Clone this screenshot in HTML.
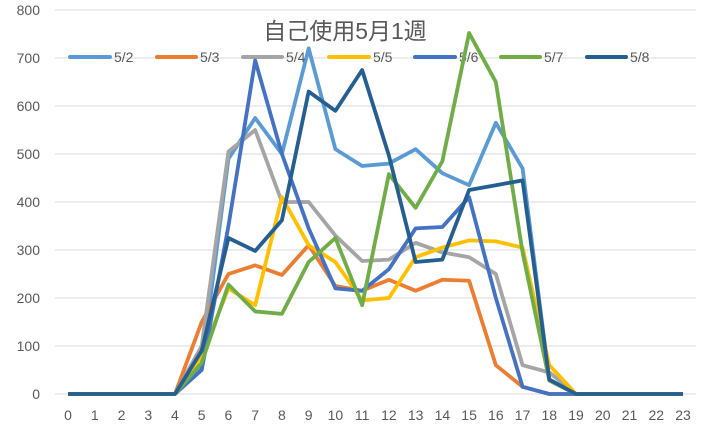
<!DOCTYPE html><html><head><meta charset="utf-8"><style>body{margin:0;background:#fff}svg{display:block}text{font-family:"Liberation Sans","Noto Sans CJK JP",sans-serif;fill:#595959}</style></head><body>
<svg width="712" height="429" xmlns="http://www.w3.org/2000/svg" id="s"></svg>
<script>
const s=document.getElementById('s');let h='';
const X=i=>68+i*26.74, Y=v=>394-v*0.48;
for(let v=0;v<=800;v+=100){h+=`<line x1="55" x2="696" y1="${Y(v)}" y2="${Y(v)}" stroke="#d9d9d9" stroke-width="1"/>`;h+=`<text x="40" y="${Y(v)+5}" font-size="14" text-anchor="end">${v}</text>`;}
for(let i=0;i<24;i++)h+=`<text x="${X(i)}" y="420" font-size="14" text-anchor="middle">${i}</text>`;
const z=[0,0,0,0,0];
const S=[
['#5b9bd5',[...z,60,490,575,500,720,510,475,480,510,460,435,565,470,30,0,0,0,0,0]],
['#ed7d31',[...z,150,250,268,248,310,225,215,238,215,238,236,60,15,0,0,0,0,0,0]],
['#a5a5a5',[...z,100,505,550,400,400,330,277,280,315,295,285,250,60,45,0,0,0,0,0]],
['#ffc000',[...z,80,220,185,410,310,275,195,200,285,305,320,318,305,60,0,0,0,0,0]],
['#4472c4',[...z,50,350,695,500,345,220,215,260,345,348,410,200,15,0,0,0,0,0,0]],
['#70ad47',[...z,65,228,172,167,275,325,185,458,388,485,752,650,295,28,0,0,0,0,0]],
['#255e91',[...z,90,325,298,362,630,590,675,497,275,280,425,435,445,30,0,0,0,0,0]]];
const L=[[70,114,'5/2'],[157,200,'5/3'],[243,286,'5/4'],[329,373,'5/5'],[415,459,'5/6'],[501,544,'5/7'],[587,630,'5/8']];
S.forEach((d,k)=>{h+=`<polyline fill="none" stroke="${d[0]}" stroke-width="3.8" stroke-linejoin="round" points="${d[1].map((v,i)=>X(i)+','+Y(v)).join(' ')}"/>`;
h+=`<line x1="${L[k][0]}" x2="${L[k][1]-4}" y1="57" y2="57" stroke="${d[0]}" stroke-width="4" stroke-linecap="round"/><text x="${L[k][1]}" y="62" font-size="14">${L[k][2]}</text>`;});
h+=`<text x="345" y="39" font-size="23" text-anchor="middle">自己使用5月1週</text>`;
s.innerHTML=h;
</script></body></html>
